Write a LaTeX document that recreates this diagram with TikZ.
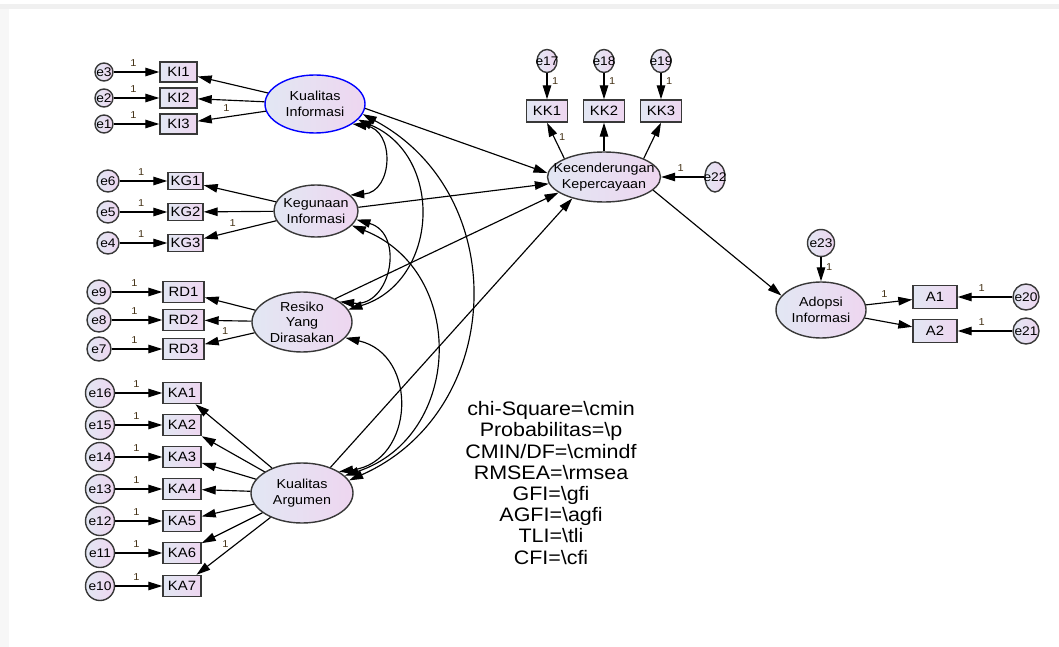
\documentclass[tikz,border=0pt]{standalone}
\usepackage{fontspec}
\setmainfont[FakeStretch=1.1]{Liberation Sans}
\usepackage{xcolor}
\usetikzlibrary{arrows.meta, shapes.geometric}

\definecolor{amosblue}{RGB}{226,231,243}
\definecolor{amospink}{RGB}{238,214,240}
\definecolor{edgegray}{RGB}{56,56,56}
\definecolor{labelbrown}{RGB}{70,52,24}

\begin{document}
\begin{tikzpicture}[
    x=1pt, y=1pt,
    line width=1.15pt,
    obs node/.style={rectangle, draw=edgegray, line width=1.4pt, left color=amosblue, right color=amospink, inner sep=0pt, font=\fontsize{13.5}{15}\selectfont},
    err node/.style={ellipse, draw=edgegray, line width=1.4pt, left color=amosblue, right color=amospink, inner xsep=-8pt, inner ysep=0pt, font=\fontsize{12.5}{14}\selectfont},
    lat node/.style={ellipse, draw=edgegray, line width=1.4pt, left color=amosblue, right color=amospink, inner xsep=-18pt, inner ysep=-1pt, align=center, font=\fontsize{13}{15.5}\selectfont},
    load arrow/.style={-{Triangle[length=14pt, width=8.5pt]}},
    cov arrow/.style={{Triangle[length=14pt, width=8.5pt]}-{Triangle[length=14pt, width=8.5pt]}},
    one label/.style={font=\fontsize{10}{10}\selectfont, text=labelbrown, inner sep=4.5pt}
]
    \useasboundingbox (0,0) rectangle (1059,-647);
    \fill[black!6] (0,-4) rectangle (1059,-9.5);
    \fill[black!3] (0,-9.5) rectangle (8.5,-647);

    % --- Kualitas Informasi ---
    \node[lat node, draw=blue, minimum width=100pt, minimum height=58pt] (KI) at (315,-104) {Kualitas\\Informasi};
    \node[obs node, minimum width=37pt, minimum height=20pt] (KI1) at (178.5,-72) {KI1};
    \node[obs node, minimum width=37pt, minimum height=20pt] (KI2) at (178.5,-98) {KI2};
    \node[obs node, minimum width=37pt, minimum height=20pt] (KI3) at (178.5,-124) {KI3};
    \node[err node, minimum width=18pt, minimum height=18pt] (e3) at (104,-72) {e3};
    \node[err node, minimum width=18pt, minimum height=18pt] (e2) at (104,-98) {e2};
    \node[err node, minimum width=18pt, minimum height=18pt] (e1) at (104,-124) {e1};

    \draw[load arrow] (e3) -- node[one label, above, pos=0.43] {1} (KI1);
    \draw[load arrow] (e2) -- node[one label, above, pos=0.43] {1} (KI2);
    \draw[load arrow] (e1) -- node[one label, above, pos=0.43] {1} (KI3);
    \draw[load arrow] (KI) -- (KI1);
    \draw[load arrow] (KI) -- (KI2);
    \draw[load arrow] (KI) -- node[one label, above, pos=0.58] {1} (KI3);

    % --- Kegunaan Informasi ---
    \node[lat node, minimum width=84pt, minimum height=52pt] (KG) at (316,-211) {Kegunaan\\Informasi};
    \node[obs node, minimum width=35pt, minimum height=17pt] (KG1) at (185.5,-181) {KG1};
    \node[obs node, minimum width=35pt, minimum height=17pt] (KG2) at (185.5,-212) {KG2};
    \node[obs node, minimum width=35pt, minimum height=17pt] (KG3) at (185.5,-243) {KG3};
    \node[err node, minimum width=22pt, minimum height=22pt] (e6) at (108,-181) {e6};
    \node[err node, minimum width=22pt, minimum height=22pt] (e5) at (108,-212) {e5};
    \node[err node, minimum width=22pt, minimum height=22pt] (e4) at (108,-243) {e4};

    \draw[load arrow] (e6) -- node[one label, above, pos=0.45] {1} (KG1);
    \draw[load arrow] (e5) -- node[one label, above, pos=0.45] {1} (KG2);
    \draw[load arrow] (e4) -- node[one label, above, pos=0.45] {1} (KG3);
    \draw[load arrow] (KG) -- (KG1);
    \draw[load arrow] (KG) -- (KG2);
    \draw[load arrow] (KG) -- node[one label, above, pos=0.6] {1} (KG3);

    % --- Resiko Yang Dirasakan ---
    \node[lat node, minimum width=100pt, minimum height=60pt] (RD) at (302,-322) {Resiko\\Yang\\Dirasakan};
    \node[obs node, minimum width=41pt, minimum height=21pt] (RD1) at (183.5,-292) {RD1};
    \node[obs node, minimum width=41pt, minimum height=21pt] (RD2) at (183.5,-320) {RD2};
    \node[obs node, minimum width=41pt, minimum height=21pt] (RD3) at (183.5,-349) {RD3};
    \node[err node, minimum width=24pt, minimum height=24pt] (e9) at (99,-292) {e9};
    \node[err node, minimum width=24pt, minimum height=24pt] (e8) at (99,-320) {e8};
    \node[err node, minimum width=24pt, minimum height=24pt] (e7) at (99,-349) {e7};

    \draw[load arrow] (e9) -- node[one label, above, pos=0.45] {1} (RD1);
    \draw[load arrow] (e8) -- node[one label, above, pos=0.45] {1} (RD2);
    \draw[load arrow] (e7) -- node[one label, above, pos=0.45] {1} (RD3);
    \draw[load arrow] (RD) -- (RD1);
    \draw[load arrow] (RD) -- (RD2);
    \draw[load arrow] (RD) -- node[one label, above, pos=0.59] {1} (RD3);

    % --- Kualitas Argumen ---
    \node[lat node, minimum width=102pt, minimum height=60pt] (KA) at (302,-493) {Kualitas\\Argumen};
    \node[obs node, minimum width=38pt, minimum height=21pt] (KA1) at (182,-393) {KA1};
    \node[obs node, minimum width=38pt, minimum height=21pt] (KA2) at (182,-425) {KA2};
    \node[obs node, minimum width=38pt, minimum height=21pt] (KA3) at (182,-457) {KA3};
    \node[obs node, minimum width=38pt, minimum height=21pt] (KA4) at (182,-489) {KA4};
    \node[obs node, minimum width=38pt, minimum height=21pt] (KA5) at (182,-521) {KA5};
    \node[obs node, minimum width=38pt, minimum height=21pt] (KA6) at (182,-553) {KA6};
    \node[obs node, minimum width=38pt, minimum height=21pt] (KA7) at (182,-586) {KA7};
    \node[err node, minimum width=29pt, minimum height=29pt] (e16) at (100,-393) {e16};
    \node[err node, minimum width=29pt, minimum height=29pt] (e15) at (100,-425) {e15};
    \node[err node, minimum width=29pt, minimum height=29pt] (e14) at (100,-457) {e14};
    \node[err node, minimum width=29pt, minimum height=29pt] (e13) at (100,-489) {e13};
    \node[err node, minimum width=29pt, minimum height=29pt] (e12) at (100,-521) {e12};
    \node[err node, minimum width=29pt, minimum height=29pt] (e11) at (100,-553) {e11};
    \node[err node, minimum width=29pt, minimum height=29pt] (e10) at (100,-586) {e10};

    \draw[load arrow] (e16) -- node[one label, above, pos=0.45] {1} (KA1);
    \draw[load arrow] (e15) -- node[one label, above, pos=0.45] {1} (KA2);
    \draw[load arrow] (e14) -- node[one label, above, pos=0.45] {1} (KA3);
    \draw[load arrow] (e13) -- node[one label, above, pos=0.45] {1} (KA4);
    \draw[load arrow] (e12) -- node[one label, above, pos=0.45] {1} (KA5);
    \draw[load arrow] (e11) -- node[one label, above, pos=0.45] {1} (KA6);
    \draw[load arrow] (e10) -- node[one label, above, pos=0.45] {1} (KA7);
    \draw[load arrow] (KA) -- (KA1);
    \draw[load arrow] (KA) -- (KA2);
    \draw[load arrow] (KA) -- (KA3);
    \draw[load arrow] (KA) -- (KA4);
    \draw[load arrow] (KA) -- (KA5);
    \draw[load arrow] (KA) -- (KA6);
    \draw[load arrow] (KA) -- node[one label, above, pos=0.61] {1} (KA7);

    % --- covariances ---
    \draw[cov arrow] (KI.-28) to[bend left=84, looseness=1.55] (KG.25);
    \draw[cov arrow] (KI.-20) to[bend left=70, looseness=1.27] (RD.15);
    \draw[cov arrow] (KI.-12) to[bend left=64, looseness=1.19] (KA.15);
    \draw[cov arrow] (KG.-12) to[bend left=85, looseness=1.56] (RD.28);
    \draw[cov arrow] (KG.-22) to[bend left=70, looseness=1.27] (KA.22);
    \draw[cov arrow] (RD.-20) to[bend left=80, looseness=1.45] (KA.30);

    % --- Kecenderungan Kepercayaan ---
    \node[lat node, minimum width=113pt, minimum height=50pt] (KK) at (604,-177) {Kecenderungan\\Kepercayaan};
    \node[obs node, minimum width=41pt, minimum height=22pt] (KK1) at (547,-111) {KK1};
    \node[obs node, minimum width=41pt, minimum height=22pt] (KK2) at (604,-111) {KK2};
    \node[obs node, minimum width=41pt, minimum height=22pt] (KK3) at (661,-111) {KK3};
    \node[err node, minimum width=20pt, minimum height=23pt] (e17) at (547,-61) {e17};
    \node[err node, minimum width=20pt, minimum height=23pt] (e18) at (604,-61) {e18};
    \node[err node, minimum width=20pt, minimum height=23pt] (e19) at (661,-61) {e19};
    \node[err node, minimum width=20pt, minimum height=30pt] (e22) at (715,-177) {e22};

    \draw[load arrow] (e17) -- node[one label, right, pos=0.3] {1} (KK1);
    \draw[load arrow] (e18) -- node[one label, right, pos=0.3] {1} (KK2);
    \draw[load arrow] (e19) -- node[one label, right, pos=0.3] {1} (KK3);
    \draw[load arrow] (KK.155) -- node[one label, right, pos=0.6] {1} (KK1.south);
    \draw[load arrow] (KK) -- (KK2);
    \draw[load arrow] (KK.25) -- (KK3.south);
    \draw[load arrow] (e22) -- node[one label, above, pos=0.55] {1} (KK);

    \draw[load arrow] (KI.-5) -- (KK.176);
    \draw[load arrow] (KG.5) -- (KK.187);
    \draw[load arrow] (RD.35) -- (KK.199);
    \draw[load arrow] (KA.42) -- (KK.214);

    % --- Adopsi Informasi ---
    \node[lat node, minimum width=90pt, minimum height=56pt] (AD) at (821,-310) {Adopsi\\Informasi};
    \node[obs node, minimum width=44pt, minimum height=23pt] (A1) at (935,-297) {A1};
    \node[obs node, minimum width=44pt, minimum height=23pt] (A2) at (935,-331) {A2};
    \node[err node, minimum width=26pt, minimum height=26pt] (e20) at (1026,-297) {e20};
    \node[err node, minimum width=26pt, minimum height=26pt] (e21) at (1026,-331) {e21};
    \node[err node, minimum width=27pt, minimum height=27pt] (e23) at (821,-243) {e23};

    \draw[load arrow] (KK.-15) -- (AD.160);
    \draw[load arrow] (e23) -- node[one label, right, pos=0.4] {1} (AD);
    \draw[load arrow] (AD) -- node[one label, above, pos=0.4] {1} (A1);
    \draw[load arrow] (AD) -- (A2);
    \draw[load arrow] (e20) -- node[one label, above, pos=0.56] {1} (A1);
    \draw[load arrow] (e21) -- node[one label, above, pos=0.56] {1} (A2);

    % --- fit indices ---
    \node[align=center, font=\fontsize{19.5}{21.2}\selectfont] (fitidx) at (551,-483) {chi-Square=\textbackslash cmin\\Probabilitas=\textbackslash p\\CMIN/DF=\textbackslash cmindf\\RMSEA=\textbackslash rmsea\\GFI=\textbackslash gfi\\AGFI=\textbackslash agfi\\TLI=\textbackslash tli\\CFI=\textbackslash cfi};
\end{tikzpicture}
\end{document}
